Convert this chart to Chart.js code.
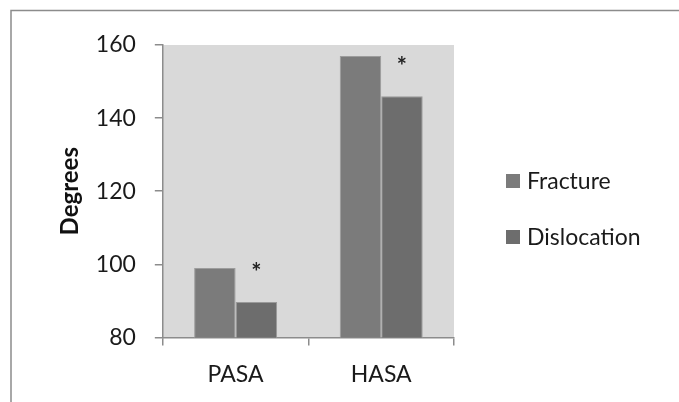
<!DOCTYPE html>
<html>
<head>
<meta charset="utf-8">
<script src="https://cdn.jsdelivr.net/npm/chart.js@4.4.1/dist/chart.umd.min.js"></script>
<style>
  html, body { margin: 0; padding: 0; background: #fff; }
  #wrap { width: 679px; height: 402px; }
</style>
</head>
<body>
<div id="wrap"><canvas id="mycanvas" width="679" height="402"></canvas></div>
<script>
var categories = ["PASA", "HASA"];
var fracture = [99, 157];
var dislocation = [89.7, 146];
var yTicks = [80, 100, 120, 140, 160];
var starred = [true, true]; // significance marks above dislocation bars

// frame lines + grey plot background
var backdrop = {
	id: 'backdrop',
	beforeDraw: function(chart) {
		var ctx = chart.ctx, a = chart.chartArea;
		ctx.save();
		ctx.fillStyle = '#d9d9d9';
		ctx.fillRect(a.left, a.top, a.right - a.left, a.bottom - a.top);
		ctx.strokeStyle = '#8c8c8c';
		ctx.lineWidth = 1.5;
		ctx.beginPath();
		ctx.moveTo(11, chart.height);
		ctx.lineTo(11, 10.5);
		ctx.lineTo(chart.width, 10.5);
		ctx.stroke();
		ctx.restore();
	}
};

var stars = {
	id: 'stars',
	afterDatasetsDraw: function(chart) {
		var ctx = chart.ctx;
		var meta = chart.getDatasetMeta(1);
		ctx.save();
		ctx.fillStyle = '#222';
		ctx.font = 'bold 24px Lato';
		ctx.textAlign = 'center';
		ctx.textBaseline = 'middle';
		meta.data.forEach(function(bar, i) {
			if (starred[i]) ctx.fillText('*', bar.x, bar.y - 29);
		});
		ctx.restore();
	}
};

// legend drawn by hand so the spacing matches
var sideLegend = {
	id: 'sideLegend',
	afterDraw: function(chart) {
		var ctx = chart.ctx;
		var a = chart.chartArea;
		var x = a.right + 52, y = 174;
		ctx.save();
		ctx.font = '23px Lato';
		ctx.textBaseline = 'middle';
		ctx.textAlign = 'left';
		chart.data.datasets.forEach(function(ds, i) {
			var top = y + i * 56;
			ctx.fillStyle = ds.backgroundColor;
			ctx.fillRect(x, top, 14, 14);
			ctx.fillStyle = '#1a1a1a';
			ctx.fillText(ds.label, x + 21, top + 8);
		});
		ctx.restore();
	}
};

var ctx = document.getElementById('mycanvas');
var barGraph = new Chart(ctx, {
	type: 'bar',
	data: {
		labels: categories,
		datasets: [
			{
				label: 'Fracture',
				data: fracture,
				backgroundColor: '#7b7b7b',
				borderColor: '#9c9c9c',
				borderWidth: 1
			},
			{
				label: 'Dislocation',
				data: dislocation,
				backgroundColor: '#6d6d6d',
				borderColor: '#9a9a9a',
				borderWidth: 1
			}
		]
	},
	options: {
		responsive: false,
		animation: false,
		layout: { padding: { left: 56, top: 45, right: 225, bottom: -1 } },
		datasets: { bar: { barPercentage: 1, categoryPercentage: 0.57 } },
		plugins: {
			legend: { display: false },
			tooltip: { enabled: false }
		},
		scales: {
			x: {
				offset: true,
				border: { display: true, color: '#8c8c8c', width: 1.5 },
				grid: { offset: true, drawOnChartArea: false, color: '#8c8c8c', tickLength: 8, lineWidth: 1.5 },
				ticks: { color: '#1a1a1a', font: { family: 'Lato', size: 23 }, padding: 15 }
			},
			y: {
				min: 80,
				max: 160,
				afterBuildTicks: function(axis) {
					axis.ticks = yTicks.map(function(v) { return { value: v }; });
				},
				border: { display: true, color: '#8c8c8c', width: 1.5 },
				grid: { drawOnChartArea: false, color: '#8c8c8c', tickLength: 8, lineWidth: 1.5 },
				ticks: { color: '#1a1a1a', font: { family: 'Lato', size: 23 }, padding: 19 },
				title: {
					display: true,
					text: 'Degrees',
					color: '#111',
					font: { family: 'Lato', size: 24, weight: 'bold' },
					padding: { top: 0, bottom: -8 }
				}
			}
		}
	},
	plugins: [backdrop, stars, sideLegend]
});
</script>
</body>
</html>
